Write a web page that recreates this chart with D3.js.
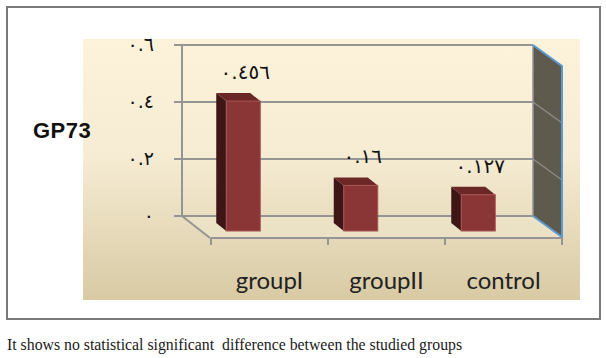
<!DOCTYPE html>
<html>
<head>
<meta charset="utf-8">
<script src="https://cdn.jsdelivr.net/npm/d3@7"></script>
<style>
  body { margin: 0; background: #fff; }
  svg { display: block; }
</style>
</head>
<body>
<svg id="chart" width="606" height="358"></svg>
<script>
// chart values
let categories = ["groupI", "groupII", "control"];
let values = [0.456, 0.16, 0.127];
let valueLabels = ["٠.٤٥٦", "٠.١٦", "٠.١٢٧"];
let yTicks = [0, 0.2, 0.4, 0.6];
let yTickLabels = ["٠", "٠.٢", "٠.٤", "٠.٦"];
let yTitle = "GP73";
let caption = "It shows no statistical significant  difference between the studied groups";

var svg = d3.select("#chart");

// gradient for the chart area
let defs = svg.append("defs");
let grad = defs.append("linearGradient")
    .attr("id", "bg").attr("x1", 0).attr("y1", 0).attr("x2", 0).attr("y2", 1);
grad.append("stop").attr("offset", "0%").attr("stop-color", "#fdf2da");
grad.append("stop").attr("offset", "45%").attr("stop-color", "#f6ecd3");
grad.append("stop").attr("offset", "100%").attr("stop-color", "#d8caa4");

// outer frame
svg.append("rect")
    .attr("x", 7).attr("y", 7).attr("width", 593).attr("height", 312)
    .attr("fill", "#fff").attr("stroke", "#7a7a7a").attr("stroke-width", 2);

// chart area
svg.append("rect")
    .attr("x", 83).attr("y", 39).attr("width", 497).attr("height", 261)
    .attr("fill", "url(#bg)");

// scales: back wall and bars (bars sit a bit in front)
let y = d3.scaleLinear().domain([0, 0.6]).range([216, 45]);
let yBar = d3.scaleLinear().domain([0, 0.6]).range([231, 60]);
let xFront = d3.scaleBand().domain(categories).range([211, 562]);
let xBar = d3.scaleBand().domain(categories).range([184.5, 537]);

let left = 182, right = 533;
let dx = 29, dy = 21;   // floor depth
let bw = 34, bdx = -10, bdy = -8; // bar width and depth

// side wall
svg.append("path")
    .attr("d", `M${right},${y(0.6)} L${right + dx},${y(0.6) + dy} L${right + dx},${y(0) + dy} L${right},${y(0)} Z`)
    .attr("fill", "#5f5a4e");

// floor
svg.append("path")
    .attr("d", `M${left},${y(0)} L${right},${y(0)} L${right + dx},${y(0) + dy} L${left + dx},${y(0) + dy} Z`)
    .attr("fill", "#efe6cc").attr("opacity", 0.6);

// gridlines on back wall and side wall
svg.append("g").selectAll("line")
    .data(yTicks)
    .enter().append("line")
    .attr("x1", left).attr("x2", right)
    .attr("y1", d => y(d)).attr("y2", d => y(d))
    .attr("stroke", "#959595").attr("stroke-width", 2);

svg.append("g").selectAll("line")
    .data(yTicks.filter(d => d > 0 && d < 0.6))
    .enter().append("line")
    .attr("x1", right).attr("x2", right + dx)
    .attr("y1", d => y(d)).attr("y2", d => y(d) + dy)
    .attr("stroke", "#8a8a86").attr("stroke-width", 1.5);

// back wall right edge
svg.append("line")
    .attr("x1", right).attr("x2", right).attr("y1", y(0.6)).attr("y2", y(0))
    .attr("stroke", "#959595").attr("stroke-width", 1.5);

// blue edges of side wall
svg.append("path")
    .attr("d", `M${right},${y(0.6)} L${right + dx},${y(0.6) + dy} L${right + dx},${y(0) + dy} L${right},${y(0)}`)
    .attr("fill", "none").attr("stroke", "#5b9bd5").attr("stroke-width", 2);

// y axis line and ticks
svg.append("line")
    .attr("x1", left).attr("x2", left).attr("y1", y(0.6)).attr("y2", y(0))
    .attr("stroke", "#959595").attr("stroke-width", 2);
svg.append("g").selectAll("line")
    .data(yTicks)
    .enter().append("line")
    .attr("x1", left - 8).attr("x2", left)
    .attr("y1", d => y(d)).attr("y2", d => y(d))
    .attr("stroke", "#959595").attr("stroke-width", 2);

// tick labels
svg.append("g").selectAll("text")
    .data(yTicks)
    .enter().append("text")
    .attr("x", 154)
    .attr("y", d => y(d) + 6)
    .attr("text-anchor", "end")
    .attr("direction", "ltr")
    .style("font-family", "'DejaVu Sans', sans-serif")
    .style("font-size", "19px")
    .style("letter-spacing", "2px")
    .style("fill", "#111")
    .text((d, i) => yTickLabels[i]);

// floor left edge and front axis
svg.append("line")
    .attr("x1", left).attr("y1", y(0)).attr("x2", left + dx - 1).attr("y2", y(0) + dy + 1)
    .attr("stroke", "#959595").attr("stroke-width", 2);
svg.append("line")
    .attr("x1", xFront.range()[0]).attr("x2", xFront.range()[1])
    .attr("y1", y(0) + dy + 1).attr("y2", y(0) + dy + 1)
    .attr("stroke", "#959595").attr("stroke-width", 2);
let xTickPos = categories.map(c => xFront(c)).concat([xFront.range()[1]]);
svg.append("g").selectAll("line")
    .data(xTickPos)
    .enter().append("line")
    .attr("x1", d => d).attr("x2", d => d)
    .attr("y1", y(0) + dy + 1).attr("y2", y(0) + dy + 8)
    .attr("stroke", "#959595").attr("stroke-width", 2);

// category labels
svg.append("g").selectAll("text")
    .data(categories)
    .enter().append("text")
    .attr("x", d => xFront(d) + xFront.bandwidth() / 2)
    .attr("y", 289)
    .attr("text-anchor", "middle")
    .style("font-family", "Lato, 'Open Sans', sans-serif")
    .style("font-size", "24px")
    .style("fill", "#222")
    .text(d => d);

// 3d bars
let bars = svg.append("g").selectAll("g")
    .data(categories)
    .enter().append("g");

bars.each(function (c, i) {
    let g = d3.select(this);
    let cx = xBar(c) + xBar.bandwidth() / 2;
    let x0 = cx - bw / 2, x1 = cx + bw / 2;
    let yt = yBar(values[i]), yb = yBar(0);
    // left side
    g.append("path")
        .attr("d", `M${x0},${yt} L${x0 + bdx},${yt + bdy} L${x0 + bdx},${yb + bdy} L${x0},${yb} Z`)
        .attr("fill", "#3e1616");
    // top
    g.append("path")
        .attr("d", `M${x0},${yt} L${x1},${yt} L${x1 + bdx},${yt + bdy} L${x0 + bdx},${yt + bdy} Z`)
        .attr("fill", "#6b2626");
    // front
    g.append("rect")
        .attr("x", x0).attr("y", yt).attr("width", bw).attr("height", yb - yt)
        .attr("fill", "#8b3636").attr("stroke", "#a75252").attr("stroke-width", 1);
    // value label
    g.append("text")
        .attr("x", cx + 2)
        .attr("y", yt - 22)
        .attr("text-anchor", "middle")
        .attr("direction", "ltr")
        .style("font-family", "'DejaVu Sans', sans-serif")
        .style("font-size", "20px")
        .style("letter-spacing", "2px")
        .style("fill", "#111")
        .text(valueLabels[i]);
});

// y title
svg.append("text")
    .attr("x", 33).attr("y", 138)
    .style("font-family", "'Liberation Sans', Arial, sans-serif")
    .style("font-weight", "bold")
    .style("font-size", "22px")
    .style("letter-spacing", "0.5px")
    .style("fill", "#111")
    .text(yTitle);

// caption
svg.append("text")
    .attr("x", 7).attr("y", 350)
    .attr("xml:space", "preserve")
    .style("white-space", "pre")
    .style("font-family", "'Liberation Serif', 'Times New Roman', serif")
    .style("font-size", "15.8px")
    .style("fill", "#1a1a1a")
    .text(caption);
</script>
</body>
</html>
